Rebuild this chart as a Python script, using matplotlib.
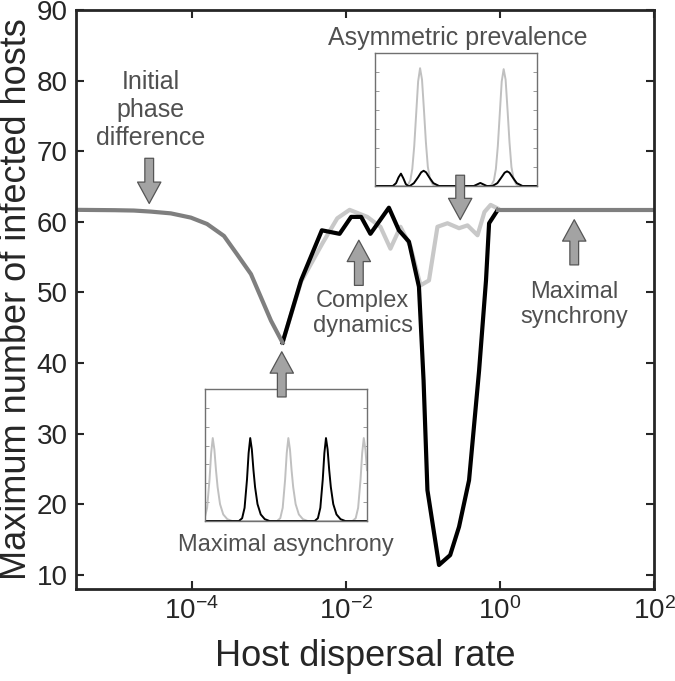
import matplotlib
matplotlib.use("Agg")
import matplotlib.pyplot as plt
import numpy as np
from matplotlib.patches import FancyArrowPatch

# main curves: x given as log10(host dispersal rate)
shared_left_exp = [-5.5, -5.0, -4.75, -4.53, -4.27, -4.01, -3.80, -3.58, -3.41, -3.23, -3.10, -2.97, -2.82]
shared_left_max = [61.7, 61.65, 61.6, 61.45, 61.2, 60.6, 59.7, 58.0, 55.4, 52.6, 49.3, 46.0, 42.9]

black_exp = [-2.82, -2.58, -2.31, -2.08, -1.93, -1.80, -1.68, -1.44, -1.31, -1.18, -1.05,
             -0.99, -0.94, -0.79, -0.645, -0.53, -0.40, -0.27, -0.18, -0.14, -0.03]
black_max = [42.9, 51.7, 58.8, 58.3, 60.7, 60.7, 58.3, 62.0, 58.8, 57.2, 50.8,
             37.5, 22.0, 11.4, 12.8, 16.8, 23.4, 38.9, 51.7, 59.8, 61.65]

light_exp = [-2.82, -2.58, -2.30, -2.11, -1.95, -1.72, -1.55, -1.42, -1.29, -1.16, -1.03,
             -0.92, -0.81, -0.68, -0.53, -0.42, -0.29, -0.20, -0.12, -0.03]
light_max = [42.9, 51.5, 57.0, 60.5, 61.7, 60.7, 59.3, 56.2, 59.3, 56.5, 51.0,
             51.7, 59.3, 59.8, 59.1, 59.5, 58.1, 61.4, 62.4, 61.9]

shared_right_exp = [-0.03, 2.0]
shared_right_max = [61.65, 61.65]

# inset "Asymmetric prevalence" (time 0-100, infected 0-70)
asym_light_t = [0, 19, 20.3, 21.8, 23.0, 24.2, 25.4, 26.6, 27.8, 29.0, 30.2, 31.4, 32.6, 34.0, 35.6, 37.5,
                70.5, 71.9, 73.4, 74.6, 75.8, 77.0, 78.2, 79.4, 80.6, 81.8, 83.0, 84.2, 85.6, 87.2, 89, 100]
asym_light_y = [0, 0, 0.5, 3, 9, 21, 38, 55, 62, 56, 40, 23, 10, 3.5, 0.8, 0,
                0, 0.5, 3, 9, 21, 38, 55, 61.5, 56, 40, 23, 10, 3.5, 0.8, 0, 0]
asym_black_t = [0, 11, 13, 14.5, 16, 17.5, 19, 20.5, 21.5, 24, 26.5, 28.5, 30, 31.5, 33.5, 36, 39.5,
                61, 63, 65, 67, 69, 72.5, 75.5, 78, 80, 81.5, 83, 85, 87.5, 91, 100]
asym_black_y = [0, 0, 1.5, 4.5, 6.5, 4, 1, 0, 0, 1.5, 4.5, 7.2, 8, 7.2, 4.5, 1.5, 0,
                0, 0.8, 1.6, 0.8, 0, 0, 1.5, 4.5, 7.0, 7.7, 7.0, 4.5, 1.5, 0, 0]

# inset "Maximal asynchrony"
async_light_t = [-2.2, -0.2, 1.3, 2.8, 3.8, 4.8, 5.8, 6.8, 7.8, 9.3, 11.3, 13.8, 16.8,
                 44.6, 46.6, 48.1, 49.6, 50.6, 51.6, 52.6, 53.6, 54.6, 56.1, 58.1, 60.6, 63.6,
                 91.3, 93.3, 94.8, 96.3, 97.3, 98.3, 99.3, 100.3]
async_light_y = [0, 1.5, 7, 22, 36, 44, 38, 27, 18, 9, 3.5, 1, 0,
                 0, 1.5, 7, 22, 36, 44, 38, 27, 18, 9, 3.5, 1, 0,
                 0, 1.5, 7, 22, 36, 44, 38, 27]
async_black_t = [0, 21, 23, 24.5, 26, 27, 28, 29, 30, 31, 32.5, 34.5, 37, 40,
                 67.9, 69.9, 71.4, 72.9, 73.9, 74.9, 75.9, 76.9, 77.9, 79.4, 81.4, 83.9, 86.9, 100]
async_black_y = [0, 0, 1.5, 7, 22, 36, 44, 38, 27, 18, 9, 3.5, 1, 0,
                 0, 1.5, 7, 22, 36, 44, 38, 27, 18, 9, 3.5, 1, 0, 0]

narrow = ["Liberation Sans Narrow", "Liberation Sans"]
plt.rcParams["font.family"] = ["Liberation Sans", "DejaVu Sans"]

DARK = "#7f7f7f"
LIGHT = "#c8c8c8"
TXT = "#505050"

fig = plt.figure(figsize=(6.75, 6.81), dpi=100)
ax = fig.add_axes([0.1126, 0.1351, 0.8563, 0.8502])
ax.set_zorder(2)
ax.patch.set_visible(False)

ax.plot(10 ** np.array(light_exp), light_max, color=LIGHT, lw=3)
ax.plot(10 ** np.array(black_exp), black_max, color="black", lw=3)
ax.plot(10 ** np.array(shared_left_exp), shared_left_max, color=DARK, lw=3, solid_joinstyle="round")
ax.plot(10 ** np.array(shared_right_exp), shared_right_max, color=DARK, lw=3)

ax.set_xscale("log")
ax.set_xlim(10 ** -5.5, 1e2)
ax.set_ylim(8, 90)
ax.set_xticks([1e-4, 1e-2, 1e0, 1e2])
ax.minorticks_off()
ax.set_yticks(range(10, 91, 10))
ax.tick_params(direction="in", length=6, width=1.5, top=True, right=True, labelsize=20,
               colors="#262626", pad=6)
for lab in ax.get_xticklabels() + ax.get_yticklabels():
    lab.set_family(narrow)
for s in ax.spines.values():
    s.set_linewidth(2)
    s.set_color("#262626")
ax.set_xlabel("Host dispersal rate", fontsize=26, color="#262626", labelpad=10)
ax.set_ylabel("Maximum number of infected hosts", fontsize=26, color="#262626", labelpad=2)


def inset(rect, lt, ly, bt, by):
    a = fig.add_axes(rect)
    a.set_zorder(1)
    a.plot(lt, ly, color="#c0c0c0", lw=1.4)
    a.plot(bt, by, color="black", lw=1.4)
    a.set_xlim(0, 100)
    a.set_ylim(0, 70)
    a.set_xticks([])
    a.set_yticks(range(10, 61, 10))
    a.tick_params(axis="y", direction="in", length=3, width=0.6, right=True,
                  labelleft=False, colors="#888888")
    for s in a.spines.values():
        s.set_linewidth(1)
        s.set_color("#707070")
    return a


inset([0.5556, 0.7269, 0.2400, 0.1953], asym_light_t, asym_light_y, asym_black_t, asym_black_y)
inset([0.3037, 0.2349, 0.2393, 0.1938], async_light_t, async_light_y, async_black_t, async_black_y)


def arrow(x_exp, y_tail, y_tip):
    p = FancyArrowPatch((10 ** x_exp, y_tail), (10 ** x_exp, y_tip), transform=ax.transData,
                        arrowstyle="simple,head_length=1.1,head_width=1.2,tail_width=0.45",
                        mutation_scale=14, fc="#a3a3a3", ec="#555555", lw=0.9,
                        shrinkA=0, shrinkB=0, zorder=5)
    fig.add_artist(p)


arrow(-4.55, 69.0, 62.6)
arrow(-2.83, 35.2, 41.6)
arrow(-1.83, 51.0, 57.4)
arrow(-0.515, 66.6, 60.3)
arrow(0.965, 53.9, 60.3)

tk = dict(ha="center", va="center", color=TXT, fontsize=18, linespacing=1.2)
ax.text(10 ** -4.53, 75.8, "Initial\nphase\ndifference", family=narrow, **tk)
ax.text(10 ** -0.55, 86.0, "Asymmetric prevalence", family=narrow, **tk)
ax.text(10 ** -1.78, 47.0, "Complex\ndynamics", **{**tk, "fontsize": 17})
ax.text(10 ** 0.96, 48.3, "Maximal\nsynchrony", **{**tk, "fontsize": 17})
ax.text(10 ** -2.78, 14.2, "Maximal asynchrony", **{**tk, "fontsize": 17})

fig.savefig("out.png", dpi=100)
